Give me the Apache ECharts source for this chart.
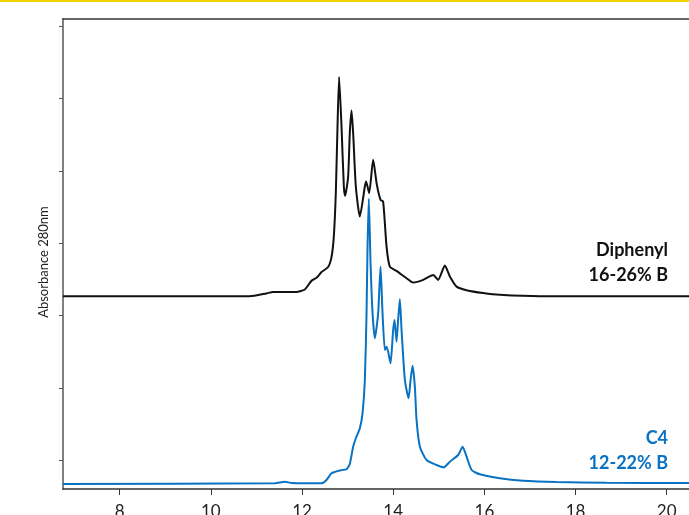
<!DOCTYPE html>
<html>
<head>
<meta charset="utf-8">
<title>Chromatogram</title>
<script src="https://cdn.jsdelivr.net/npm/echarts@6/dist/echarts.min.js"></script>
<style>
  html, body { margin: 0; padding: 0; background: #fff; }
  #chart { width: 689px; height: 515px; }
</style>
</head>
<body>
<div id="chart"></div>
<script>
// retention time (min) and absorbance (arbitrary units)
const diphenylTime = [6.756, 10.85, 11.22, 11.365, 11.878, 12.06, 12.208, 12.317, 12.427, 12.572, 12.647, 12.697, 12.741, 12.778, 12.813, 12.866, 12.917, 12.945, 13.011, 13.048, 13.086, 13.121, 13.18, 13.268, 13.378, 13.406, 13.472, 13.56, 13.641, 13.722, 13.779, 13.854, 13.926, 14.073, 14.293, 14.438, 14.657, 14.877, 14.986, 15.133, 15.243, 15.39, 15.61, 15.974, 16.34, 17.22, 20.489]
const diphenylAbs = [266.5, 266.5, 270.5, 272.5, 272.5, 276, 288, 292, 300, 307, 321, 349, 409.6, 501.3, 569.7, 501.3, 418.3, 405.4, 432.1, 492.6, 523.5, 492.6, 418.3, 376.8, 418.3, 425.2, 409.2, 455.2, 420.9, 399.9, 397.5, 335.3, 307.6, 301.6, 291.5, 285.5, 289.2, 296.1, 289.2, 309.0, 293.8, 279.9, 275, 271, 268.5, 266.5, 266.5]

const c4Time = [6.756, 11.402, 11.622, 11.775, 12.427, 12.537, 12.647, 12.829, 12.976, 13.048, 13.121, 13.18, 13.268, 13.327, 13.378, 13.415, 13.437, 13.465, 13.503, 13.547, 13.597, 13.67, 13.722, 13.766, 13.817, 13.854, 13.889, 13.942, 13.999, 14.03, 14.073, 14.108, 14.146, 14.183, 14.256, 14.337, 14.381, 14.425, 14.475, 14.512, 14.585, 14.732, 14.951, 15.111, 15.243, 15.425, 15.522, 15.61, 15.72, 15.902, 16.341, 16.846, 17.585, 18.683, 20.489]
const c4Abs = [6.9, 7.9, 10.1, 8.3, 7.9, 12.5, 21.7, 25.6, 27.3, 34.6, 58.5, 70.2, 84.0, 104.7, 150.8, 243.1, 335.3, 401.3, 312.3, 243.1, 208.5, 243.1, 307.6, 243.1, 192.3, 196.9, 190.0, 173.9, 220.0, 233.8, 203.8, 233.8, 262.5, 220.0, 150.8, 125.5, 150.8, 170.6, 141.6, 95.5, 58.5, 40.1, 33.2, 30.0, 37.8, 47.0, 58.5, 44.7, 26.3, 20.3, 14.8, 11.5, 9.7, 8.7, 8.3]

const xTicks = [8, 10, 12, 14, 16, 18, 20]
const yTicks = [40, 140, 240, 340, 440, 540, 640]

const zip = (a, b) => a.map((t, i) => [t, b[i]])

const myChart = echarts.init(document.getElementById('chart'))
myChart.setOption({
  animation: false,
  grid: { left: 63, top: 19, right: 0, bottom: 26, containLabel: false, outerBoundsMode: 'none' },
  xAxis: [{
    type: 'value',
    min: 6.756,
    max: 20.489,
    splitLine: { show: false },
    axisLine: { lineStyle: { color: '#333', width: 1.5 } },
    axisTick: { customValues: xTicks, length: 6, lineStyle: { color: '#333' } },
    axisLabel: { customValues: xTicks, margin: 14, fontSize: 17, fontFamily: 'Lato', color: '#222' }
  }, {
    type: 'value',
    position: 'top',
    min: 6.756,
    max: 20.489,
    splitLine: { show: false },
    axisLine: { show: true, lineStyle: { color: '#333', width: 1.5 } },
    axisTick: { show: false },
    axisLabel: { show: false }
  }],
  yAxis: {
    type: 'value',
    min: 0,
    max: 650,
    splitLine: { show: false },
    axisLine: { show: true, lineStyle: { color: '#808080', width: 2 } },
    axisTick: { show: true, customValues: yTicks, length: 4, lineStyle: { color: '#555' } },
    axisLabel: { show: false }
  },
  graphic: [
    { type: 'rect', left: 0, top: 0, shape: { width: 689, height: 2 }, style: { fill: '#f2d200' } },
    {
      type: 'text', x: 44, y: 262, rotation: Math.PI / 2,
      style: { text: 'Absorbance 280nm', fontFamily: 'Lato', fontSize: 13, fill: '#222', align: 'center', verticalAlign: 'middle' }
    },
    { type: 'text', right: 21, top: 241, style: { text: 'Diphenyl', font: 'bold 18px Lato', fill: '#111', align: 'right' } },
    { type: 'text', right: 21, top: 266, style: { text: '16-26% B', font: 'bold 18px Lato', fill: '#111', align: 'right' } },
    { type: 'text', right: 21, top: 429, style: { text: 'C4', font: 'bold 18px Lato', fill: '#0a72c2', align: 'right' } },
    { type: 'text', right: 21, top: 454, style: { text: '12-22% B', font: 'bold 18px Lato', fill: '#0a72c2', align: 'right' } }
  ],
  series: [{
    name: 'Diphenyl',
    type: 'line',
    data: zip(diphenylTime, diphenylAbs),
    showSymbol: false,
    smooth: 0.2,
    lineStyle: { color: '#111', width: 2 }
  }, {
    name: 'C4',
    type: 'line',
    data: zip(c4Time, c4Abs),
    showSymbol: false,
    smooth: 0.2,
    lineStyle: { color: '#0a72c2', width: 2 }
  }]
})
</script>
</body>
</html>
